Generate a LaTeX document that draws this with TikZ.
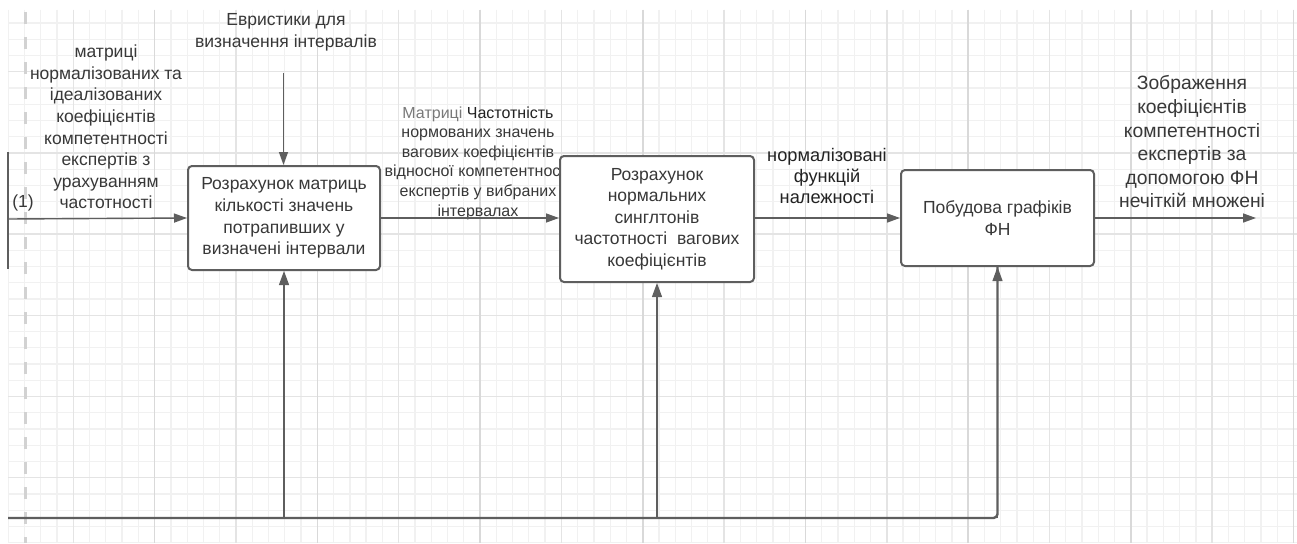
\documentclass[tikz,border=0pt]{standalone}
\usepackage{fontspec}
\setmainfont{Liberation Sans}
\usetikzlibrary{arrows.meta}
\definecolor{ln}{HTML}{5E5E5E}
\definecolor{txt}{HTML}{383838}
\definecolor{txtd}{HTML}{222222}
\definecolor{gminor}{HTML}{F1F1F1}
\definecolor{gmajor}{HTML}{E4E4E4}
\definecolor{gmajorb}{HTML}{D9D9D9}
\definecolor{dashc}{HTML}{D2D2D2}
\begin{document}
\begin{tikzpicture}[x=1pt,y=-1pt,
  proc/.style={draw=ln, line width=2pt, rounded corners=4pt, fill=white, text=txt,
    align=center, inner sep=0pt, font=\fontsize{17.5}{21.6}\selectfont},
  lbl/.style={text=txt, align=center, inner sep=0pt, font=\fontsize{17.5}{21.6}\selectfont},
  conn/.style={draw=ln, line width=1.4pt, -{Triangle[length=13pt,width=9pt]}},
  feed/.style={draw=ln, line width=1.1pt, -{Triangle[length=14pt,width=10pt]}},
  gridminor/.style={draw=gminor, line width=1.3pt},
  gridmajor/.style={draw=gmajor, line width=1.5pt},
  gridmajorb/.style={draw=gmajorb, line width=1.6pt}]
\useasboundingbox (0,0) rectangle (1297,543);
\fill[white] (0,0) rectangle (1297,543);
% grid
\foreach \i in {0,...,79} {\draw[gridminor] ({8.2+16.27*\i},10) -- ({8.2+16.27*\i},543);}
\foreach \i in {0,...,32} {\draw[gridminor] (8,{23+16.24*\i}) -- (1297,{23+16.24*\i});}
\foreach \i in {0,...,6} {\draw[gridmajor] (8,{71.7+81.2*\i}) -- (1297,{71.7+81.2*\i});}
\foreach \i in {0,...,15} {\draw[gridmajor] ({73.3+81.35*\i},10) -- ({73.3+81.35*\i},543);}
\foreach \i in {0,...,7} {\draw[gridmajorb] ({154.6+162.7*\i},10) -- ({154.6+162.7*\i},543);}
\draw[dashc, line width=3pt, dash pattern=on 12pt off 13pt] (25,12) -- (25,543);

% free texts
\node[lbl] (tin) at (106,127) {матриці\\нормалізованих та\\ідеалізованих\\коефіцієнтів\\компетентності\\експертів з\\урахуванням\\частотності};
\node[lbl] (ttop) at (286,32) {Евристики для\\визначення інтервалів};
\node[lbl] (one) at (23,203) {(1)};
\node[lbl, font=\fontsize{16}{19.6}\selectfont] (tmid) at (478,163)
  {\textcolor{gray!95!black}{Матриці} \textcolor{txtd}{Частотність}\\нормованих значень\\вагових коефіцієнтів\\відносної компетентності\\експертів у вибраних\\інтервалах};
\node[lbl, text=txtd, font=\fontsize{18.2}{21.2}\selectfont] (tnorm) at (827,176) {нормалізовані\\функцій\\належності};
\node[lbl, font=\fontsize{19.3}{23.6}\selectfont] (tout) at (1192,142) {Зображення\\коефіцієнтів\\компетентності\\експертів за\\допомогою ФН\\нечіткій множені};

% boxes
\node[proc, minimum width=192pt, minimum height=104pt] (b1) at (284,218)
  {Розрахунок матриць\\кількості значень\\потрапивших у\\визначені інтервали};
\node[proc, minimum width=194pt, minimum height=126pt] (b2) at (657,219)
  {Розрахунок\\нормальних\\синглтонів\\частотності~~вагових\\коефіцієнтів};
\node[proc, minimum width=193pt, minimum height=96pt] (b3) at (997.5,218)
  {Побудова графіків\\ФН};

% coordinates
\coordinate (lt) at (8,152);
\coordinate (lb) at (8,269);
\coordinate (lin) at (8,219);
\coordinate (top) at (283.5,72.5);
\coordinate (out) at (1256,218);
\coordinate (bl) at (8,518);
\coordinate (j1) at (284,518);
\coordinate (j2) at (657,518);

% connectors
\draw[ln, line width=1.4pt] (lt) -- (lb);
\draw[conn] (lin) -- (b1.west);
\draw[conn] (top) -- (top |- b1.north);
\draw[conn] (b1.east |- 0,218) -- (b2.west |- 0,218);
\draw[conn] (b2.east |- 0,218) -- (b3.west |- 0,218);
\draw[conn] (b3.east |- 0,218) -- (out);
\draw[ln, line width=2.4pt, rounded corners=4pt] (bl) -- (j1) -- (j2) -| (b3.south);
\draw[feed] (j1) -- (b1.south);
\draw[feed] (j2) -- (b2.south);
\draw[feed] (b3.south |- j2) -- (b3.south);
\end{tikzpicture}
\end{document}
